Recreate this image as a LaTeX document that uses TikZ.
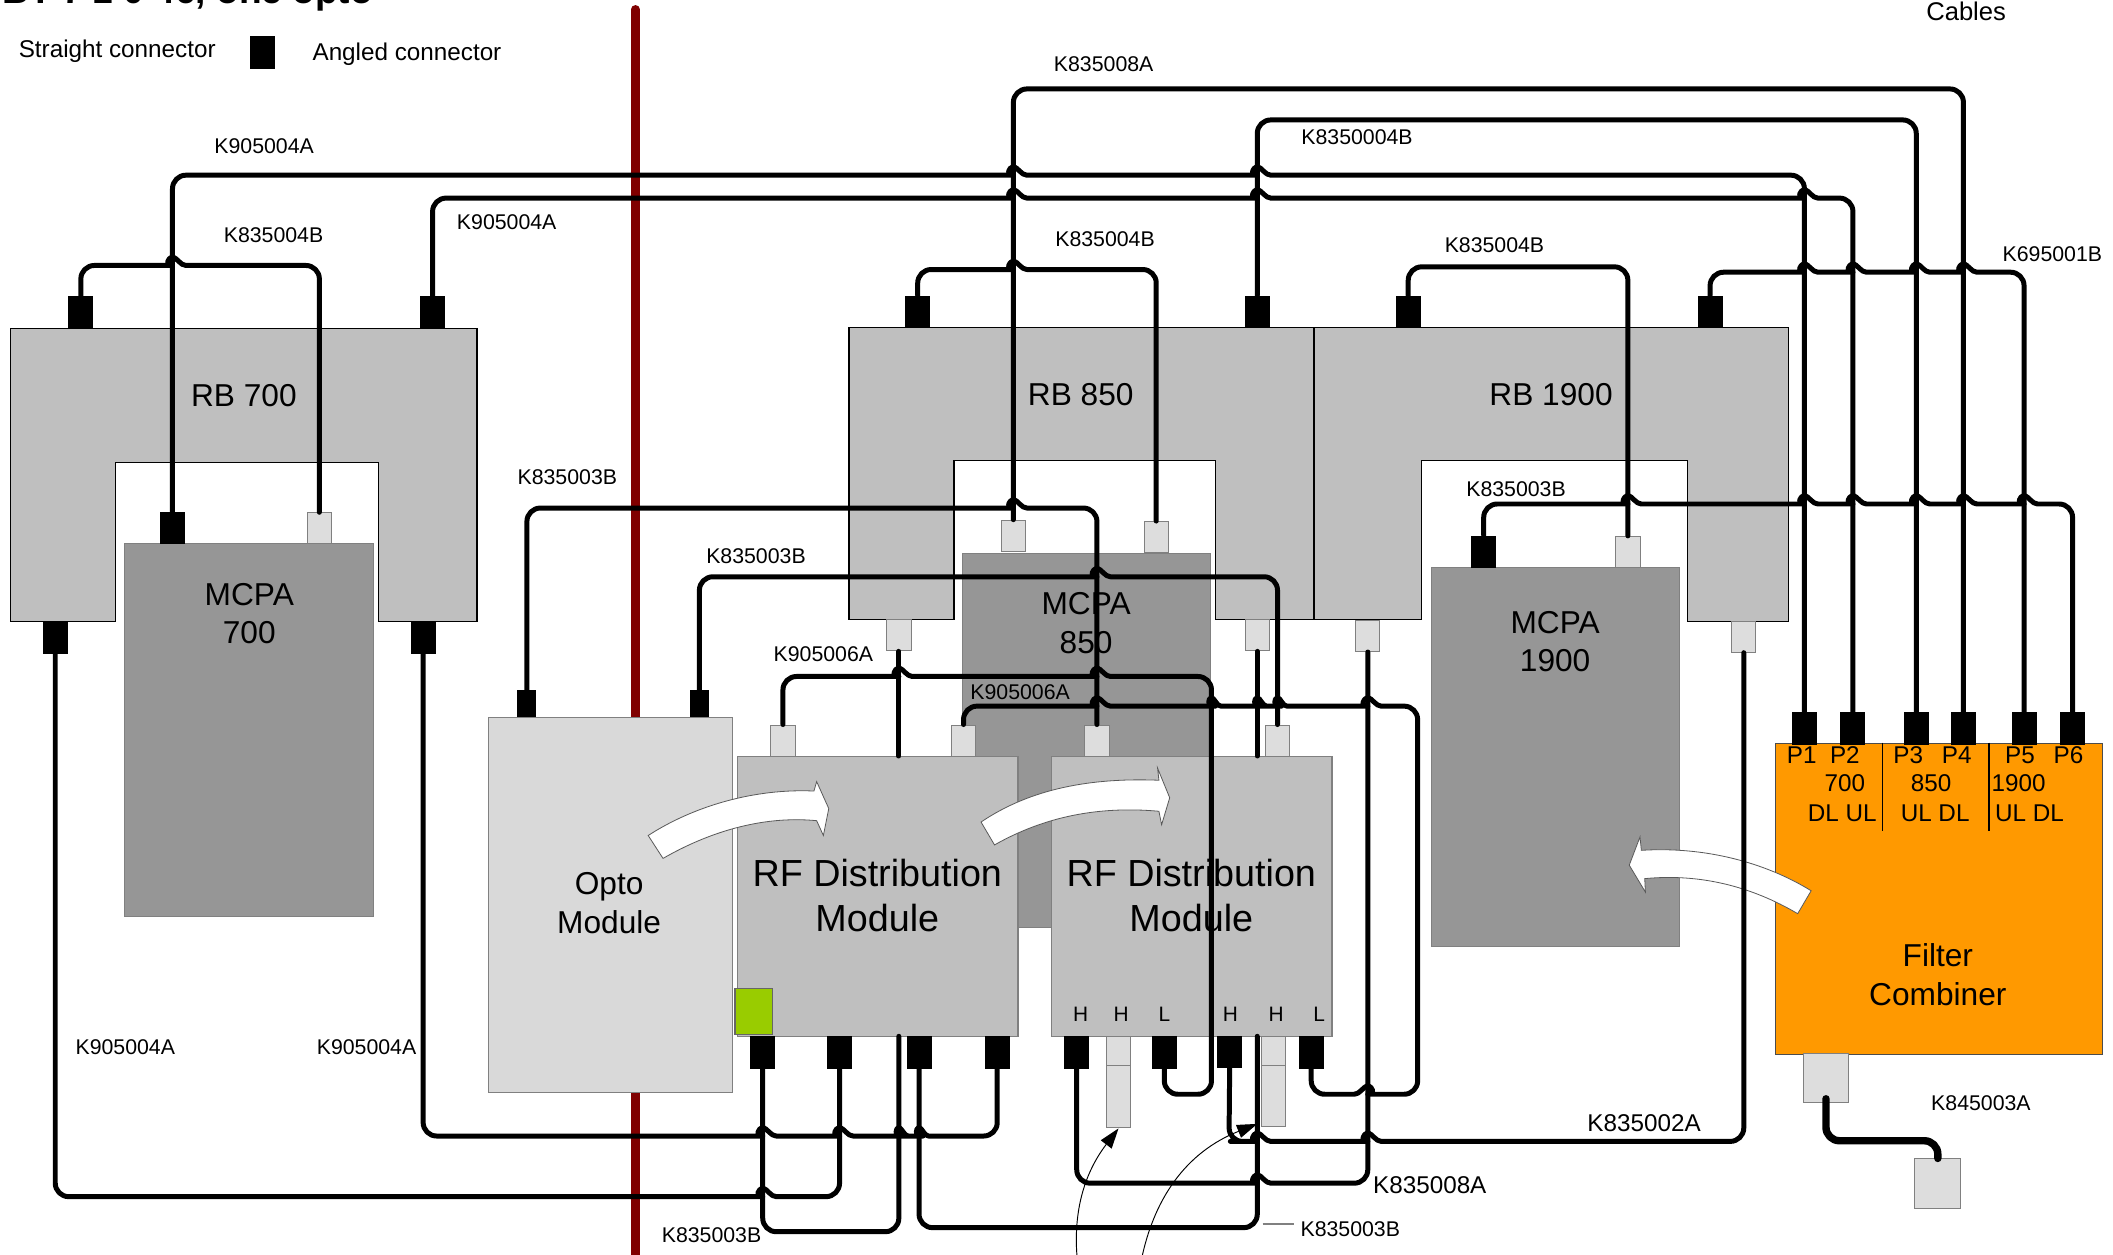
\documentclass[tikz,border=0pt]{standalone}
\usepackage{fontspec}
\setmainfont{Liberation Sans}
\usetikzlibrary{arrows.meta}
\newcommand{\fs}[2]{\fontsize{#1}{#2}\selectfont}
\def\hop#1#2{-- (#1-10,#2) [sharp corners] .. controls (#1-6,#2) and (#1-3.5,#2-5.5) .. (#1,#2-6.5) .. controls (#1+3.5,#2-5.5) and (#1+6,#2) .. (#1+10,#2) [rounded corners=10pt]}
\def\hopn#1#2{-- (#1-7,#2) [sharp corners] .. controls (#1-4,#2) and (#1-2.5,#2-5.5) .. (#1,#2-6.5) .. controls (#1+2.5,#2-5.5) and (#1+4,#2) .. (#1+7,#2) [rounded corners=10pt]}
\definecolor{litc}{HTML}{DDDDDD}
\definecolor{rbc}{HTML}{BFBFBF}
\definecolor{mcc}{HTML}{969696}
\definecolor{optc}{HTML}{D9D9D9}
\definecolor{filc}{HTML}{FF9900}
\definecolor{grc}{HTML}{99CC00}
\definecolor{redc}{HTML}{800000}
\tikzset{
 box/.style={draw=#1,line width=0.8pt,inner sep=0pt,anchor=north west},
 blk/.style={fill=black,draw=none,inner sep=0pt,minimum width=18.5pt,minimum height=24pt},
 blks/.style={fill=black,draw=none,inner sep=0pt,minimum width=14pt,minimum height=20pt},
 lit/.style={fill=litc,draw=gray,line width=0.7pt,inner sep=0pt,minimum width=18pt,minimum height=23pt},
 cable/.style={draw=black,line width=3.7pt,rounded corners=10pt,line cap=round,line join=round},
 thinarrow/.style={draw=black,line width=0.7pt,-{Triangle[length=15pt,width=10pt]}},
 blockarrow/.style={fill=white,draw=black!65,line width=0.6pt},
 small/.style={font=\fs{15.8}{19},inner sep=0pt,yshift=-0.8pt},
 mid/.style={font=\fs{18}{22},inner sep=0pt,yshift=-0.8pt},
 big/.style={font=\fs{23.5}{28.5},inner sep=0pt,align=center,yshift=-0.8pt},
 rf/.style={font=\fs{28}{33},inner sep=0pt,align=center},
 hl/.style={font=\fs{15.5}{18},inner sep=0pt,yshift=-0.8pt},
}
\begin{document}
\begin{tikzpicture}[x=1pt,y=-1pt]
\useasboundingbox (0,0) rectangle (1568,931.3);
\clip (0,0) rectangle (1568,931.3);
\fill[white] (0,0) rectangle (1568,931.3);
% clipped title
\node[font=\fs{27.5}{32}\bfseries,inner sep=0pt,anchor=base east] (title) at (277,2.5) {BT 7 1 0 46, one opto};
% dividing wall
\coordinate (walltop) at (471.5,7);
\coordinate (wallbot) at (471.5,940);
\draw[redc,line width=6.5pt,line cap=round] (walltop) -- (wallbot);
% rack blocks
\draw[fill=rbc,line width=0.9pt] (8,244)--(354,244)--(354,461)--(281,461)--(281,343)--(86,343)--(86,461)--(8,461)--cycle;
\draw[fill=rbc,line width=0.9pt] (630,243)--(975,243)--(975,460)--(902,460)--(902,342)--(708,342)--(708,460)--(630,460)--cycle;
\draw[fill=rbc,line width=0.9pt] (975,243)--(1327,243)--(1327,461)--(1252,461)--(1252,342)--(1055,342)--(1055,460)--(975,460)--cycle;
% MCPA
\node[box=gray,fill=mcc,minimum width=185pt,minimum height=277pt] (mcpa7) at (92,403) {};
\node[box=gray,fill=mcc,minimum width=184pt,minimum height=278pt] (mcpa8) at (714,410) {};
\node[box=gray,fill=mcc,minimum width=184pt,minimum height=281pt] (mcpa19) at (1062,421) {};
% modules
\node[box=gray,fill=optc,minimum width=181pt,minimum height=278pt] (opto) at (362,532) {};
\node[box=gray,fill=rbc,minimum width=208pt,minimum height=208pt] (rf1) at (547,561) {};
\node[box=gray,fill=rbc,minimum width=208pt,minimum height=208pt] (rf2) at (780,561) {};
\node[box=black!60,fill=grc,minimum width=28pt,minimum height=34pt] (green) at (545,733) {};
\node[box=black!70,fill=filc,minimum width=243pt,minimum height=231pt] (filter) at (1317,551) {};
% filter dividers
\coordinate (d1t) at (1397,551); \coordinate (d1b) at (1397,617);
\coordinate (d2t) at (1476,551); \coordinate (d2b) at (1476,617);
\draw[line width=1.2pt] (d1t)--(d1b) (d2t)--(d2b);
% block arrows
\draw[blockarrow] (481,620) .. controls (515,598) and (560,585) .. (604,587) -- (606,580) -- (615,600) -- (611,620) -- (606,609) .. controls (565,605) and (525,618) .. (492,637) -- cycle;
\draw[blockarrow] (728,610) .. controls (765,585) and (810,577) .. (860,579) -- (859,570) -- (868,592) -- (862,612) -- (860,602) .. controls (815,598) and (775,606) .. (738,627) -- cycle;
\draw[blockarrow] (1344,661) .. controls (1310,640) and (1265,628) .. (1218,631) -- (1217,621) -- (1209,642) -- (1221,662) -- (1220.5,652) .. controls (1262,648) and (1300,658) .. (1334,678) -- cycle;
% text
\node[mid] (t1) at (87,37.5) {Straight connector};
\node[mid] (t2) at (302,39.5) {Angled connector};
\node[mid,font=\fs{19}{22}] (t3) at (1459,7.5) {Cables};
\node[small] (t4) at (196,108) {K905004A};
\node[small] (t5) at (203,174) {K835004B};
\node[small] (t6) at (376,164) {K905004A};
\node[small] (t7) at (819,47) {K835008A};
\node[small] (t8) at (1007,101) {K8350004B};
\node[small] (t9) at (820,177) {K835004B};
\node[small] (t10) at (1109,181) {K835004B};
\node[small] (t11) at (1523,188) {K695001B};
\node[small] (t12) at (421,353) {K835003B};
\node[small] (t13) at (561,412) {K835003B};
\node[small] (t14) at (611,485) {K905006A};
\node[small] (t15) at (757,513) {K905006A};
\node[small] (t16) at (1125,362) {K835003B};
\node[small] (t17) at (93,776) {K905004A};
\node[small] (t18) at (272,776) {K905004A};
\node[small] (t19) at (1470,818) {K845003A};
\node[small] (t20) at (528,916) {K835003B};
\node[small] (t21) at (1002,911) {K835003B};
\node[mid] (t22) at (1220,833) {K835002A};
\node[mid] (t23) at (1061,879) {K835008A};
\node[big] (rb7) at (181,293) {RB 700};
\node[big] (rb8) at (802,292) {RB 850};
\node[big] (rb19) at (1151,292) {RB 1900};
\node[big] (m7) at (185,454.5) {MCPA\\700};
\node[big] (m8) at (806,461.5) {MCPA\\850};
\node[big] (m19) at (1154,475.5) {MCPA\\1900};
\node[big] (op) at (452,669.5) {Opto\\Module};
\node[big] (fc) at (1438,722.5) {Filter\\Combiner};
\node[rf] (rf1t) at (651,664.5) {RF Distribution\\Module};
\node[rf] (rf2t) at (884,664.5) {RF Distribution\\Module};
\node[hl] (h1) at (802,752) {H};
\node[hl] (h2) at (832,752) {H};
\node[hl] (h3) at (864,752) {L};
\node[hl] (h4) at (913,752) {H};
\node[hl] (h5) at (947,752) {H};
\node[hl] (h6) at (979,752) {L};
\node[mid] (p1t) at (1337,559.5) {P1};
\node[mid] (p2t) at (1369,559.5) {P2};
\node[mid] (p3t) at (1416,559.5) {P3};
\node[mid] (p4t) at (1452,559.5) {P4};
\node[mid] (p5t) at (1499,559.5) {P5};
\node[mid] (p6t) at (1535,559.5) {P6};
\node[mid] (f1) at (1369,580.5) {700};
\node[mid] (f2) at (1433,580.5) {850};
\node[mid] (f3) at (1498,580.5) {1900};
\node[mid] (f4) at (1367,602.5) {DL UL};
\node[mid] (f5) at (1436,602.5) {UL DL};
\node[mid] (f6) at (1506,602.5) {UL DL};
% connectors
\node[blk] (leg) at (195,39) {};
\node[blk] (a1) at (60,232) {};
\node[blk] (a2) at (321,232) {};
\node[blk] (a3) at (128,392) {};
\node[lit] (a4) at (237,392) {};
\node[blks] (o1) at (391,522) {};
\node[blks] (o2) at (519,522) {};
\node[blk] (b1) at (681,231.5) {};
\node[blk] (b2) at (933,231.5) {};
\node[blk] (b3) at (1045,231.5) {};
\node[blk] (b4) at (1269,231.5) {};
\node[lit] (c1) at (752,397.5) {};
\node[lit] (c2) at (858,398.5) {};
\node[lit] (d1) at (667,471.5) {};
\node[lit] (d2) at (933,471.5) {};
\node[lit] (d3) at (1015,472) {};
\node[lit] (d4) at (1294,472.5) {};
\node[blk] (e1) at (1101,409.5) {};
\node[lit] (e2) at (1208,409.5) {};
\node[lit] (g1) at (581,549.5) {};
\node[lit] (g2) at (715,549.5) {};
\node[lit] (g3) at (814,549.5) {};
\node[lit] (g4) at (948,549.5) {};
\node[blk] (i1) at (41,473) {};
\node[blk] (i2) at (314,473) {};
\node[blk] (j1) at (566,781) {};
\node[blk] (j2) at (623,781) {};
\node[blk] (j3) at (682,781) {};
\node[blk] (j4) at (740,781) {};
\node[blk] (k1) at (799,781) {};
\node[blk] (k2) at (864,781) {};
\node[blk] (k3) at (912.5,780.5) {};
\node[blk] (k4) at (973,781) {};
\node[lit,minimum height=22pt] (l1) at (830,780) {};
\node[lit,minimum height=46pt] (l1b) at (830,814) {};
\node[lit,minimum height=22pt] (l2) at (945,780) {};
\node[lit,minimum height=45pt] (l2b) at (945,813.5) {};
\node[blk] (p1) at (1339,540.5) {};
\node[blk] (p2) at (1375,540.5) {};
\node[blk] (p3) at (1422,540.5) {};
\node[blk] (p4) at (1457,540.5) {};
\node[blk] (p5) at (1502,540.5) {};
\node[blk] (p6) at (1538,540.5) {};
\node[lit,minimum width=34pt,minimum height=36pt] (n1) at (1355,800) {};
\node[lit,minimum width=34pt,minimum height=37pt] (n2) at (1438,878.5) {};
% cables
\draw[cable] (a3.north) -- (128,130) \hop{752}{130} \hop{933}{130} -- (1339,130) -- (p1.north);
\draw[cable] (a2.north) -- (321,147) \hop{752}{147} \hop{933}{147} \hop{1339}{147} -- (1375,147) -- (p2.north);
\draw[cable] (a1.north) -- (60,197) \hop{128}{197} -- (237,197) -- (a4.north);
\draw[cable] (c1.north) -- (752,66) -- (1457,66) -- (p4.north);
\draw[cable] (b2.north) -- (933,89) -- (1422,89) -- (p3.north);
\draw[cable] (b1.north) -- (681,200) \hop{752}{200} -- (858,200) -- (c2.north);
\draw[cable] (b3.north) -- (1045,198) -- (1208,198) -- (e2.north);
\draw[cable] (b4.north) -- (1269,202) \hop{1339}{202} \hop{1375}{202} \hop{1422}{202} \hop{1457}{202} -- (1502,202) -- (p5.north);
\draw[cable] (e1.north) -- (1101,374) \hop{1208}{374} \hop{1339}{374} \hop{1375}{374} \hop{1422}{374} \hop{1457}{374} \hop{1502}{374} -- (1538,374) -- (p6.north);
\draw[cable] (o1.north) -- (391,377) \hop{752}{377} -- (814,377) -- (g3.north);
\draw[cable] (o2.north) -- (519,428) \hop{814}{428} -- (948,428) -- (g4.north);
\draw[cable] (g1.north) -- (581,502) \hop{667}{502} \hop{814}{502} -- (899,502) -- (899,812) -- (864,812) -- (k2.south);
\draw[cable] (g2.north) -- (715,524) \hop{814}{524} \hopn{899}{524} \hopn{933}{524} \hopn{948}{524} \hop{1015}{524} -- (1052,524) -- (1052,812) -- (1025,812) [sharp corners] .. controls (1021,812) and (1018.5,806.5) .. (1015,805.5) .. controls (1011.5,806.5) and (1009,812) .. (1005,812) [rounded corners=10pt] -- (973,812) -- (k4.south);
\coordinate (rf1top) at (667,561);
\coordinate (rf1bot) at (667,769);
\coordinate (rf2top) at (933,561);
\coordinate (rf2bot) at (933,769);
\draw[cable] (d1.south) -- (rf1top);
\draw[cable] (d2.south) -- (rf2top);
\draw[cable] (i2.south) -- (314,843) \hop{566}{843} \hop{623}{843} \hopn{667}{843} \hopn{682}{843} -- (740,843) -- (j4.south);
\draw[cable] (i1.south) -- (41,888) \hop{566}{888} -- (623,888) -- (j2.south);
\draw[cable] (j1.south) -- (566,914) -- (667,914) -- (rf1bot);
\draw[cable] (j3.south) -- (682,911) -- (933,911) -- (rf2bot);
\draw[cable] (k1.south) -- (799,878) \hop{933}{878} -- (1015,878) -- (d3.south);
\draw[cable] (k3.south) -- (912,847) \hop{933}{847} \hop{1015}{847} -- (1294,847) -- (d4.south);
\draw[cable,line width=5.5pt] (n1.south) ++(0,-3) -- (1355,846.5) -- (1438,846.5) -- (n2.north);
% thin arrows
\coordinate (ar1) at (800,940);
\coordinate (ar2) at (846,940);
\draw[thinarrow] (ar1) .. controls (795,900) and (805,870) .. (l1b.south);
\draw[thinarrow] (ar2) .. controls (855,890) and (880,855) .. (933,834);
% leader
\coordinate (lead) at (937,908);
\coordinate (leadb) at (960,908);
\draw[gray,line width=1.5pt] (lead) -- (leadb);
\end{tikzpicture}
\end{document}
